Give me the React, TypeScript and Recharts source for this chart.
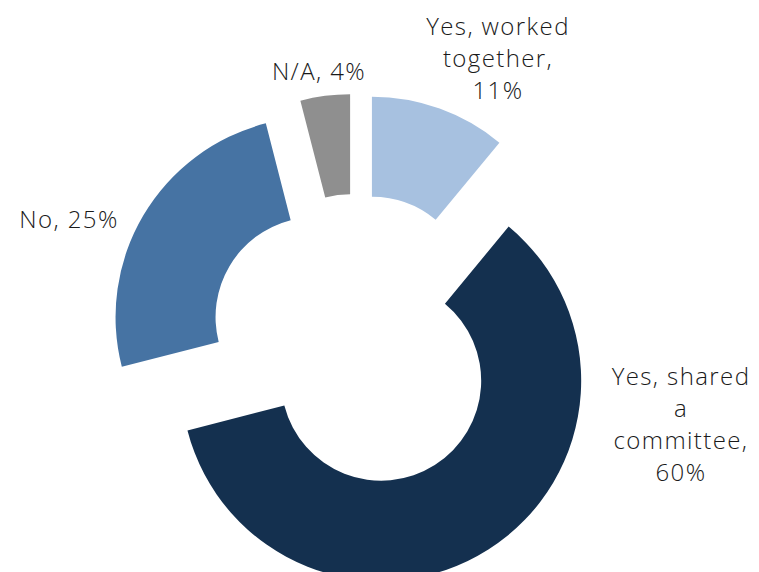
import React from 'react';
import { PieChart, Pie, Cell, Sector } from 'recharts';

// slice order, clockwise from 12 o'clock
const labels = ['Yes, worked together', 'Yes, shared a committee', 'No', 'N/A'];
const values = [11, 60, 25, 4];
const colors = ['#a7c1e0', '#14304f', '#4673a3', '#8f8f8f'];

// how each label is broken into lines, and where its block sits relative to the pie centre
const labelLines = [
  ['Yes, worked', 'together,', '11%'],
  ['Yes, shared', 'a', 'committee,', '60%'],
  ['No, 25%'],
  ['N/A, 4%'],
];
const labelOffsets: [number, number][] = [
  [142, -284],
  [325, 82],
  [-287, -123],
  [-37, -271],
];

const data = labels.map((name, i) => ({ name, value: values[i] }));

const RADIAN = Math.PI / 180;
const EXPLODE = 47;
const FONT = '"Open Sans", Roboto, "Liberation Sans", Arial, sans-serif';

const ExplodedSlice = (props: any) => {
  const { cx, cy, midAngle } = props;
  const dx = Math.cos(-midAngle * RADIAN) * EXPLODE;
  const dy = Math.sin(-midAngle * RADIAN) * EXPLODE;
  return <Sector {...props} cx={cx + dx} cy={cy + dy} stroke="none" />;
};

const renderLabel = (props: any) => {
  const { cx, cy, index } = props;
  const lines = labelLines[index];
  const [ox, oy] = labelOffsets[index];
  const lineH = 32.3;
  const top = cy + oy - ((lines.length - 1) * lineH) / 2;
  return (
    <text
      key={`lbl-${index}`}
      x={cx + ox}
      y={top}
      textAnchor="middle"
      dominantBaseline="central"
      fill="#1a1a1a"
      fontSize={24}
      fontWeight={300}
      letterSpacing={1.4}
      fontFamily={FONT}
    >
      {lines.map((l, i) => (
        <tspan key={i} x={cx + ox} y={top + i * lineH}>
          {l}
        </tspan>
      ))}
    </text>
  );
};

export default function App() {
  return (
    <div style={{ position: 'absolute', left: 0, top: 0, background: '#fff' }}>
      <PieChart width={759} height={572}>
        <Pie
          data={data}
          dataKey="value"
          nameKey="name"
          cx={351}
          cy={336}
          innerRadius={100}
          outerRadius={200}
          startAngle={90}
          endAngle={-270}
          stroke="none"
          shape={ExplodedSlice}
          inactiveShape={ExplodedSlice}
          activeShape={ExplodedSlice}
          label={renderLabel}
          labelLine={false}
          isAnimationActive={false}
        >
          {data.map((d, i) => (
            <Cell key={d.name} fill={colors[i]} />
          ))}
        </Pie>
      </PieChart>
    </div>
  );
}
